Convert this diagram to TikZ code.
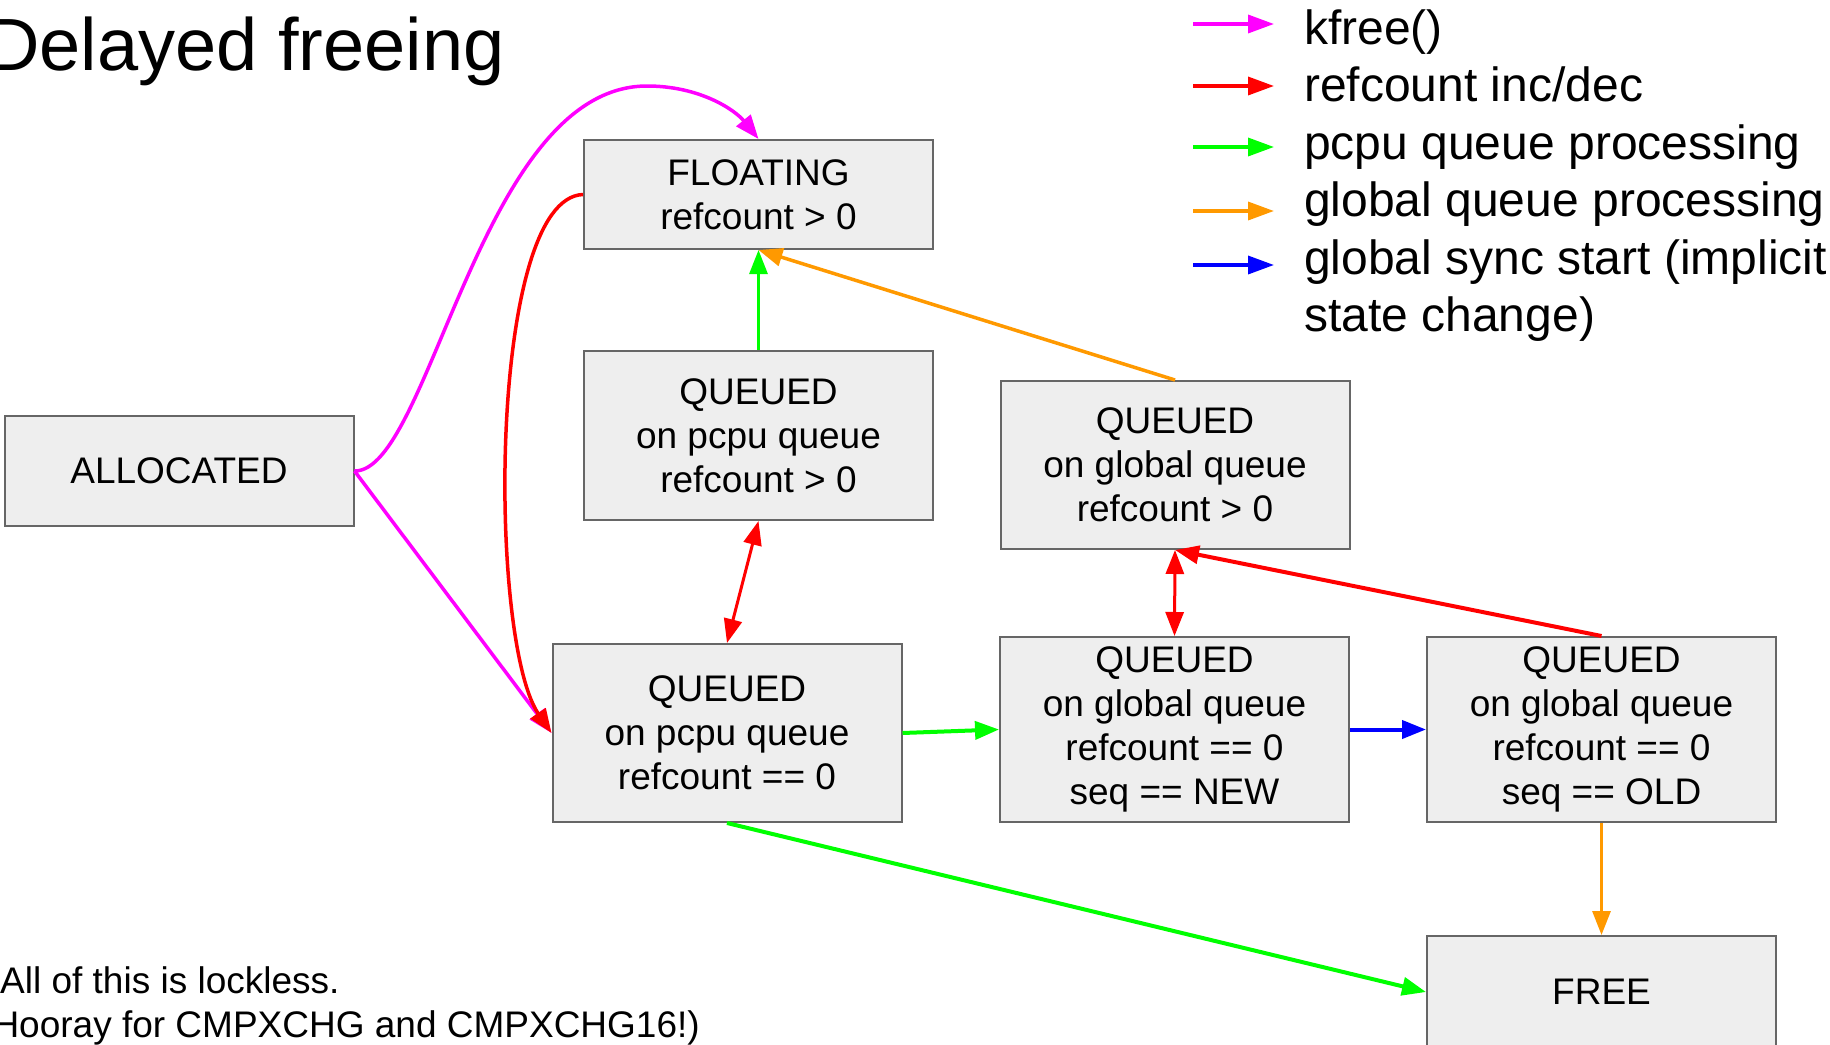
\documentclass[tikz,border=0pt]{standalone}
\usepackage{fontspec}
\setmainfont{Liberation Sans}
\usetikzlibrary{arrows.meta}
\definecolor{boxfill}{HTML}{EEEEEE}
\definecolor{boxline}{HTML}{666666}
\definecolor{cmag}{HTML}{FF00FF}
\definecolor{cred}{HTML}{FF0000}
\definecolor{cgreen}{HTML}{00FF00}
\definecolor{corange}{HTML}{FF9900}
\definecolor{cblue}{HTML}{0000FF}
\begin{document}
\begin{tikzpicture}[x=1pt,y=-1pt,
  box/.style={draw=boxline, fill=boxfill, line width=2pt, minimum width=349pt, inner sep=0pt, align=center, font=\fontsize{37}{44}\selectfont},
  arr/.style={-{Triangle[length=24pt,width=18pt]}},
  darr/.style={{Triangle[length=24pt,width=18pt]}-{Triangle[length=24pt,width=18pt]}},
  lgarr/.style={line width=3.5pt,-{Triangle[length=26pt,width=18pt]}},
  lgtext/.style={anchor=base west, inner sep=0pt, font=\fontsize{48}{57}\selectfont},
  note/.style={anchor=base west, inner sep=0pt, font=\fontsize{37}{44}\selectfont},
]
\useasboundingbox (0,0) rectangle (1830,1044);

% title
\node[anchor=base west, inner sep=0pt, font=\fontsize{74}{88}\selectfont] (title) at (-14,70) {Delayed freeing};

% state boxes
\node[box, minimum height=109pt] (float) at (758.5,194.5) {FLOATING\\refcount > 0};
\node[box, minimum height=110pt] (alloc) at (179,471) {ALLOCATED};
\node[box, minimum height=169pt] (pcpuA) at (758.5,435.5) {QUEUED\\on pcpu queue\\refcount > 0};
\node[box, minimum height=168pt] (globA) at (1175,465) {QUEUED\\on global queue\\refcount > 0};
\node[box, minimum height=178pt] (pcpuB) at (727,733) {QUEUED\\on pcpu queue\\refcount == 0};
\node[box, minimum height=185pt] (gnew) at (1174.5,729.5) {QUEUED\\on global queue\\refcount == 0\\seq == NEW};
\node[box, minimum height=185pt] (gold) at (1601.5,729.5) {QUEUED\\on global queue\\refcount == 0\\seq == OLD};
\node[box, minimum height=112pt] (free) at (1601.5,992) {FREE};

% connectors
\draw[cmag, line width=3.5pt, arr] (alloc.east) .. controls (430,472) and (480,86) .. (647,86) .. controls (700,86) and (735,110) .. (float.north);
\draw[cmag, line width=3.5pt, arr] (alloc.east) -- (pcpuB.west);
\draw[cred, line width=3.5pt, arr] (float.west) .. controls (488,198) and (488,640) .. (pcpuB.west);
\draw[cgreen, line width=3pt, arr] (pcpuA.north) -- (float.south);
\draw[corange, line width=3.5pt, arr] (globA.north) -- (float.south);
\draw[cred, line width=3pt, darr] (pcpuA.south) -- (pcpuB.north);
\draw[cred, line width=3pt, darr] (globA.south) -- (gnew.north);
\draw[cred, line width=4pt, arr] (gold.north) -- (globA.south);
\draw[cgreen, line width=4pt, arr] (pcpuB.east) -- (gnew.west);
\draw[cblue, line width=4pt, arr] (gnew.east) -- (gold.west);
\draw[corange, line width=3pt, arr] (gold.south) -- (free.north);
\draw[cgreen, line width=4pt, arr] (pcpuB.south) -- (free.west);

% legend
\coordinate (l1a) at (1193,24);  \coordinate (l1b) at (1274,24);
\coordinate (l2a) at (1193,86);  \coordinate (l2b) at (1274,86);
\coordinate (l3a) at (1193,147); \coordinate (l3b) at (1274,147);
\coordinate (l4a) at (1193,211); \coordinate (l4b) at (1274,211);
\coordinate (l5a) at (1193,265); \coordinate (l5b) at (1274,265);
\draw[cmag, lgarr] (l1a) -- (l1b);
\draw[cred, lgarr] (l2a) -- (l2b);
\draw[cgreen, lgarr] (l3a) -- (l3b);
\draw[corange, lgarr] (l4a) -- (l4b);
\draw[cblue, lgarr] (l5a) -- (l5b);
\node[lgtext] (t1) at (1304,44) {kfree()};
\node[lgtext] (t2) at (1304,101.5) {refcount inc/dec};
\node[lgtext] (t3) at (1304,159) {pcpu queue processing};
\node[lgtext] (t4) at (1304,216.5) {global queue processing};
\node[lgtext] (t5) at (1304,274) {global sync start (implicit};
\node[lgtext] (t6) at (1304,331.5) {state change)};

% notes
\node[note] (n1) at (0,993) {All of this is lockless.};
\node[note] (n2) at (-20,1037) {(Hooray for CMPXCHG and CMPXCHG16!)};
\end{tikzpicture}
\end{document}
